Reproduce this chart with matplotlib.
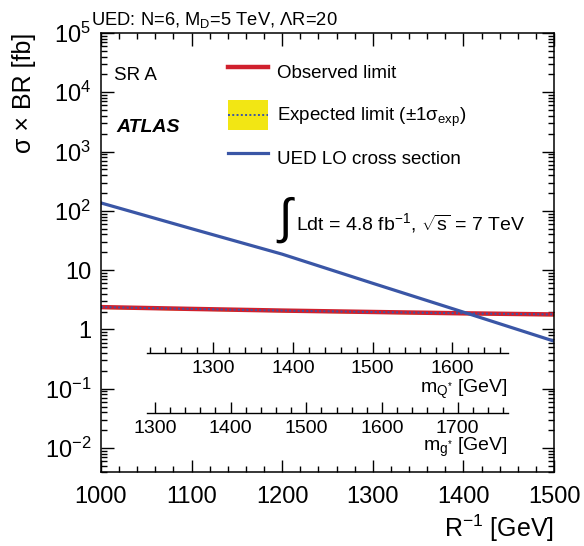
import matplotlib
matplotlib.use('Agg')
import matplotlib.pyplot as plt
from matplotlib.ticker import MultipleLocator, FixedLocator, FixedFormatter, LogLocator, NullFormatter
from matplotlib.lines import Line2D
from matplotlib.patches import Patch
from matplotlib.legend_handler import HandlerLine2D

plt.rcParams['font.family'] = ['Liberation Sans', 'DejaVu Sans']
plt.rcParams['mathtext.fontset'] = 'custom'
plt.rcParams['mathtext.rm'] = 'Liberation Sans'
plt.rcParams['mathtext.it'] = 'Liberation Sans:italic'
plt.rcParams['mathtext.bf'] = 'Liberation Sans:bold'

# values
r_inv = [1000, 1100, 1200, 1300, 1400, 1500]            # R^-1 [GeV]
ued_xsec = [136, 50, 18.6, 6.0, 1.96, 0.635]            # UED LO cross section [fb]
obs_limit = [2.38, 2.22, 2.08, 1.97, 1.87, 1.79]        # observed limit [fb]
exp_limit = [2.38, 2.22, 2.08, 1.97, 1.87, 1.79]        # expected limit [fb]
exp_lo = [2.26, 2.11, 1.98, 1.87, 1.78, 1.70]
exp_hi = [2.50, 2.33, 2.18, 2.07, 1.96, 1.88]

ytick_vals = [1e-2, 1e-1, 1, 10, 1e2, 1e3, 1e4, 1e5]
ytick_labels = ['$10^{-2}$', '$10^{-1}$', '1', '10', '$10^{2}$', '$10^{3}$', '$10^{4}$', '$10^{5}$']

mq_range = (1216.8, 1669.9)   # m_Q* scale shown under the curves
mq_ticks = [1300, 1400, 1500, 1600]
mg_range = (1289.6, 1766.4)   # m_g* scale
mg_ticks = [1300, 1400, 1500, 1600, 1700]

RED = '#d0202d'
BLUE = '#3a56a6'
YELLOW = '#f2e614'


class CenteredLine(HandlerLine2D):
    # put the dotted line in the middle of the yellow box
    def create_artists(self, legend, orig_handle, xdescent, ydescent, width, height, fontsize, trans):
        arts = super().create_artists(legend, orig_handle, xdescent, ydescent, width, height, fontsize, trans)
        for a in arts:
            a.set_ydata([height / 2 - ydescent] * len(a.get_ydata()))
        return arts


W, H = 584, 546
fig = plt.figure(figsize=(W / 100, H / 100), dpi=100)
ax = fig.add_axes([101 / W, 1 - 472 / H, 453 / W, 439 / H])

ax.fill_between(r_inv, exp_lo, exp_hi, color=YELLOW, lw=0)
ax.plot(r_inv, obs_limit, color=RED, lw=3.2)
ax.plot(r_inv, exp_limit, color=BLUE, lw=1.4, ls=(0, (1, 1.2)))
ax.plot(r_inv, ued_xsec, color=BLUE, lw=2.3)

ax.set_yscale('log')
ax.set_xlim(1000, 1500)
ax.set_ylim(0.00394, 1e5)
ax.xaxis.set_major_locator(MultipleLocator(100))
ax.xaxis.set_minor_locator(MultipleLocator(20))
ax.yaxis.set_major_locator(FixedLocator(ytick_vals))
ax.yaxis.set_major_formatter(FixedFormatter(ytick_labels))
ax.yaxis.set_minor_locator(LogLocator(base=10, subs=range(2, 10), numticks=20))
ax.yaxis.set_minor_formatter(NullFormatter())
ax.tick_params(which='both', direction='in', top=True, right=True, width=1.0, labelsize=17)
ax.tick_params(which='major', length=9)
ax.tick_params(which='minor', length=4.5)
ax.tick_params(axis='x', pad=10)
ax.tick_params(axis='y', pad=7)
for s in ax.spines.values():
    s.set_linewidth(1.1)

ax.set_xlabel('R$^{-1}$ [GeV]', fontsize=18)
ax.xaxis.set_label_coords(1.0, -0.129)
ax.xaxis.label.set(ha='right', va='center')
ax.set_ylabel(r'σ × BR [fb]', fontsize=18, loc='top')
ax.yaxis.set_label_coords(-0.143, 1.0)

fig.text(91 / W, 1 - 25 / H, r'UED: N=6, M$_{\rm D}$=5 TeV, ΛR=20', fontsize=13.2, va='baseline')
fig.text(114 / W, 1 - 80 / H, 'SR A', fontsize=13.5, va='baseline')
fig.text(116 / W, 1 - 132 / H, 'ATLAS', fontsize=14, va='baseline', fontweight='bold', style='italic')

fig.text(278 / W, 1 - 220 / H, '∫', fontsize=35, va='center')
fig.text(296 / W, 1 - 223 / H, r'Ldt = 4.8 fb$^{-1}$, $\sqrt{\rm s}$ = 7 TeV', fontsize=14, va='center')

exp_line = Line2D([], [], color=BLUE, lw=1.4, ls=(0, (1, 1.2)))
handles = [
    Line2D([], [], color=RED, lw=3.2),
    (Patch(facecolor=YELLOW, edgecolor='none'), exp_line),
    Line2D([], [], color=BLUE, lw=2.3),
]
labels = ['Observed limit', r'Expected limit ($\pm$1σ$_{\rm exp}$)', 'UED LO cross section']
fig.legend(handles, labels, loc='upper left', bbox_to_anchor=(228 / W, 1 - 57 / H),
           bbox_transform=fig.transFigure, frameon=False, fontsize=13.5, borderpad=0,
           borderaxespad=0, handlelength=2.13, handleheight=2.085, labelspacing=0.69,
           handletextpad=0.48, handler_map={exp_line: CenteredLine()})


def mass_axis(ypix, lims, ticks, label, label_ypix):
    a = fig.add_axes([147 / W, 1 - ypix / H, 361 / W, 0.0005])
    a.patch.set_alpha(0)
    for side in ('top', 'left', 'right'):
        a.spines[side].set_visible(False)
    a.spines['bottom'].set_linewidth(1.0)
    a.set_xlim(*lims)
    a.set_yticks([])
    a.xaxis.set_major_locator(FixedLocator(ticks))
    a.xaxis.set_minor_locator(MultipleLocator(20))
    a.tick_params(which='both', direction='in', width=1.0, labelsize=14, pad=5)
    a.tick_params(which='major', length=8)
    a.tick_params(which='minor', length=4)
    a.set_xlabel(label, fontsize=14)
    a.xaxis.set_label_coords(508 / W, 1 - label_ypix / H, transform=fig.transFigure)
    a.xaxis.label.set(ha='right', va='center')
    return a


mass_axis(353, mq_range, mq_ticks, r'm$_{\rm Q^{*}}$ [GeV]', 389)
mass_axis(413, mg_range, mg_ticks, r'm$_{\rm g^{*}}$ [GeV]', 447)

fig.savefig('out.png', dpi=100)
